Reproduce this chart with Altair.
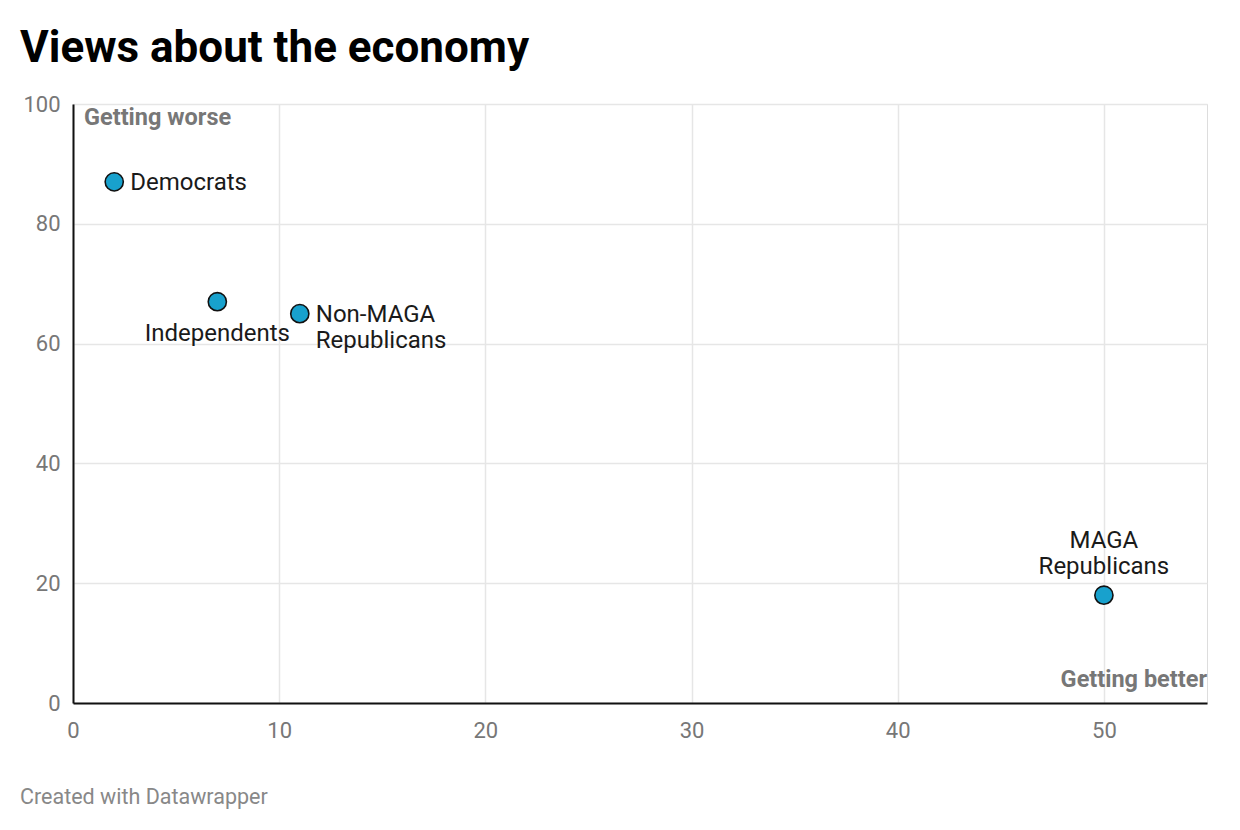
import altair as alt
import pandas as pd

# Share saying the economy is getting better (x) vs. getting worse (y)
groups = ["Democrats", "Independents", "Non-MAGA\nRepublicans", "MAGA\nRepublicans"]
getting_better = [2, 7, 11, 50]
getting_worse = [87, 67, 65, 18]
label_group = ["right", "below", "right", "above"]

x_ticks = [0, 10, 20, 30, 40, 50]
y_ticks = [0, 20, 40, 60, 80, 100]

df = pd.DataFrame({
    "group": groups,
    "better": getting_better,
    "worse": getting_worse,
    "pos": label_group,
})

W, H = 1134, 599
FONT = "Roboto"
POINT_COLOR = "#18a1cd"

x_enc = alt.X("better:Q", scale=alt.Scale(domain=[0, 55], nice=False),
              axis=alt.Axis(values=x_ticks, title=None, grid=True, ticks=False,
                            labelFontSize=22, labelColor="#777777", labelFont=FONT,
                            labelPadding=17, labelFlush=False,
                            domainColor="#111111", domainWidth=2,
                            gridColor="#e6e6e6", gridWidth=1.5))
y_enc = alt.Y("worse:Q", scale=alt.Scale(domain=[0, 100], nice=False),
              axis=alt.Axis(values=y_ticks, title=None, grid=True, ticks=False,
                            labelFontSize=22, labelColor="#777777", labelFont=FONT,
                            labelPadding=13, labelFlush=False,
                            domainColor="#111111", domainWidth=2,
                            gridColor="#e6e6e6", gridWidth=1.5))

base = alt.Chart(df)

points = base.mark_point(filled=True, size=330, shape="circle", opacity=1,
                         stroke="#111111", strokeWidth=1.6, fill=POINT_COLOR).encode(
    x=x_enc, y=y_enc)

def labels(pos, align, dx, dy):
    return base.transform_filter(alt.datum.pos == pos).mark_text(
        align=align, baseline="alphabetic", dx=dx, dy=dy, font=FONT, fontSize=24,
        color="#1a1a1a", lineBreak="\n", lineHeight=26).encode(
        x="better:Q", y="worse:Q", text="group:N")

lab_right = labels("right", "left", 16, 8)
lab_below = labels("below", "center", 0, 39)
lab_above = labels("above", "center", 0, -47)

note_worse = alt.Chart(pd.DataFrame({"t": ["Getting worse"]})).mark_text(
    align="left", baseline="middle", font=FONT, fontSize=23.5, fontWeight="bold",
    color="#777777").encode(x=alt.value(11), y=alt.value(14), text="t:N")
note_better = alt.Chart(pd.DataFrame({"t": ["Getting better"]})).mark_text(
    align="right", baseline="middle", font=FONT, fontSize=23.5, fontWeight="bold",
    color="#777777").encode(x=alt.value(W), y=alt.value(H - 23), text="t:N")
footer = alt.Chart(pd.DataFrame({"t": ["Created with Datawrapper"]})).mark_text(
    align="left", baseline="alphabetic", font=FONT, fontSize=21.5,
    color="#888888").encode(x=alt.value(-53), y=alt.value(H + 101), text="t:N")
title = alt.Chart(pd.DataFrame({"t": ["Views about the economy"]})).mark_text(
    align="left", baseline="alphabetic", font=FONT, fontSize=44, fontWeight="bold",
    color="#000000").encode(x=alt.value(-53), y=alt.value(-42), text="t:N")

chart = alt.layer(points, lab_right, lab_below, lab_above,
                  note_worse, note_better, footer, title).properties(
    width=W, height=H,
    autosize=alt.AutoSizeParams(type="none"),
    padding={"left": 73, "top": 104, "right": 33, "bottom": 127},
).configure_view(stroke=None).configure(background="white")

chart.save("out.html", embed_options={"renderer": "svg", "actions": False})
